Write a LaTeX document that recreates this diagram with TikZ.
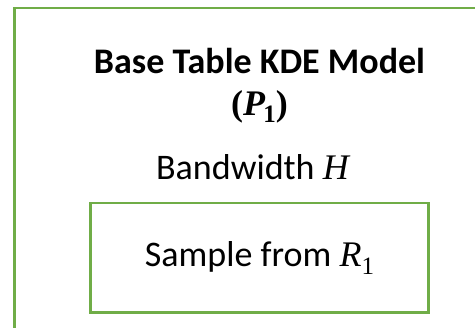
\documentclass[tikz,border=0pt]{standalone}
\usepackage{fontspec}
\setmainfont{Carlito}
\newfontfamily\varfont{Liberation Serif}
\definecolor{boxgreen}{RGB}{112,173,71}
\newcommand\bigtext{\fontsize{36bp}{42bp}\selectfont}
% italic variable with an optional lowered index
\newcommand\var[1]{{\varfont\itshape #1}}
\newcommand\idx[1]{\raisebox{-0.22em}{\varfont\fontsize{25bp}{28bp}\selectfont #1}}
\tikzset{
  frame/.style={draw=boxgreen, line width=2.3bp},
  label/.style={anchor=base, inner sep=0pt, font=\bigtext},
}
\begin{document}
\begin{tikzpicture}[x=1bp, y=-1bp]
  \useasboundingbox (0,0) rectangle (475,327);
  \clip (0,0) rectangle (475,327);
  % outer model container (continues past the right and bottom edges)
  \draw[frame] (14.5,8) rectangle (540,360);
  % heading and parameter
  \node[label, font=\bigtext\bfseries] (title) at (259.5,73.3) {Base Table KDE Model};
  \node[label, font=\bigtext\varfont\bfseries] (model) at (259.5,115) {(\textit{P}\kern-0.05em\idx{\bfseries 1})};
  \node[label] (bw) at (252.5,179.3) {Bandwidth \var{H}};
  % sample box
  \node[frame, minimum width=338bp, minimum height=109.5bp, inner sep=0pt,
        font=\bigtext] (sample) at (259.5,257.75) {Sample from \var{R}\idx{1}};
\end{tikzpicture}
\end{document}
